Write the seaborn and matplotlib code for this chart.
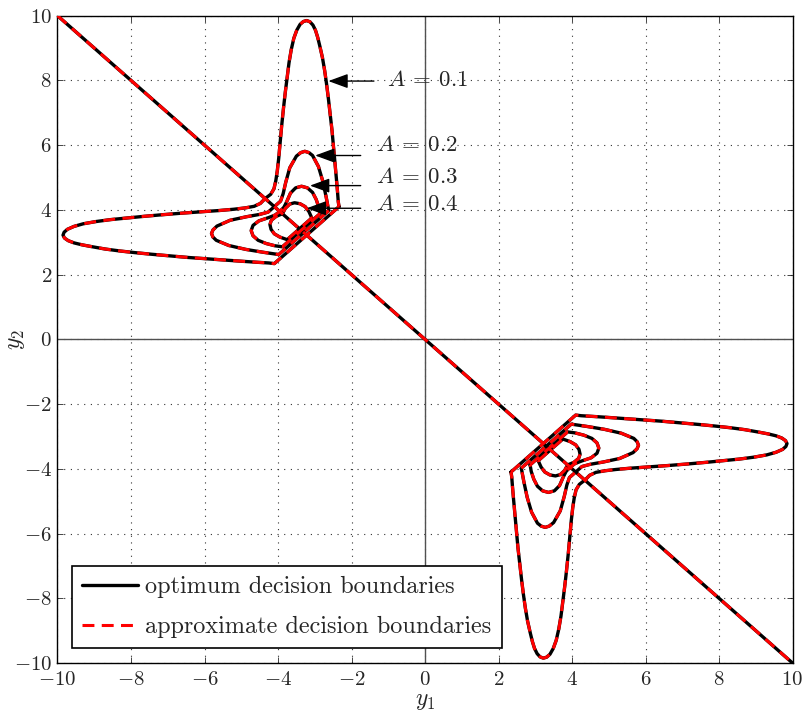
import matplotlib
matplotlib.use("Agg")
import matplotlib.pyplot as plt
import seaborn as sns

# ---------------------------------------------------------------------------
# Decision-boundary data (y1, y2 coordinates)
# ---------------------------------------------------------------------------
diag_y1 = [-10.0, 10.0]
diag_y2 = [10.0, -10.0]

# upper-left closed boundaries
a01_ul_y1 = [-2.34, -4.10, -4.25, -4.55, -4.95, -5.45, -5.95, -6.45, -6.95, -7.45,
             -7.90, -8.30, -8.70, -9.05, -9.33, -9.55, -9.71, -9.81, -9.85, -9.82,
             -9.73, -9.55, -9.30, -8.95, -8.55, -8.10, -7.65, -7.15, -6.60, -6.10,
             -5.60, -5.20, -4.90, -4.65, -4.48, -4.35, -4.20, -4.11, -4.06, -4.02,
             -3.98, -3.94, -3.90, -3.85, -3.80, -3.75, -3.70, -3.64, -3.57, -3.49,
             -3.40, -3.31, -3.22, -3.13, -3.05, -2.98, -2.92, -2.86, -2.79, -2.73,
             -2.68, -2.63, -2.58, -2.53, -2.49, -2.45, -2.41, -2.38, -2.36, -2.34]
a01_ul_y2 = [4.10, 2.34, 2.36, 2.38, 2.41, 2.45, 2.49, 2.53, 2.58, 2.63,
             2.68, 2.73, 2.79, 2.86, 2.92, 2.98, 3.05, 3.13, 3.22, 3.31,
             3.40, 3.49, 3.57, 3.64, 3.70, 3.75, 3.80, 3.85, 3.90, 3.94,
             3.98, 4.02, 4.06, 4.11, 4.20, 4.35, 4.48, 4.65, 4.90, 5.20,
             5.60, 6.10, 6.60, 7.15, 7.65, 8.10, 8.55, 8.95, 9.30, 9.55,
             9.73, 9.82, 9.85, 9.81, 9.71, 9.55, 9.33, 9.05, 8.70, 8.30,
             7.90, 7.45, 6.95, 6.45, 5.95, 5.45, 4.95, 4.55, 4.25, 4.10]

a02_ul_y1 = [-2.62, -3.98, -4.10, -4.40, -4.88, -5.34, -5.68, -5.77, -5.81, -5.77,
             -5.66, -5.30, -4.85, -4.50, -4.27, -4.10, -3.93, -3.86, -3.79, -3.68,
             -3.50, -3.38, -3.27, -3.16, -3.06, -2.90, -2.78, -2.69, -2.64, -2.62]
a02_ul_y2 = [3.98, 2.62, 2.64, 2.69, 2.78, 2.90, 3.06, 3.16, 3.27, 3.38,
             3.50, 3.68, 3.79, 3.86, 3.93, 4.10, 4.27, 4.50, 4.85, 5.30,
             5.66, 5.77, 5.81, 5.77, 5.68, 5.34, 4.88, 4.40, 4.10, 3.98]

a03_ul_y1 = [-2.86, -3.88, -4.08, -4.32, -4.54, -4.68, -4.73, -4.68, -4.52, -4.26,
             -4.08, -3.95, -3.84, -3.76, -3.66, -3.52, -3.36, -3.20, -3.06, -2.96,
             -2.89, -2.86]
a03_ul_y2 = [3.88, 2.86, 2.89, 2.96, 3.06, 3.20, 3.36, 3.52, 3.66, 3.76,
             3.84, 3.95, 4.08, 4.26, 4.52, 4.68, 4.73, 4.68, 4.54, 4.32,
             4.08, 3.88]

a04_ul_y1 = [-3.08, -3.75, -3.80, -3.95, -4.10, -4.19, -4.22, -4.18, -4.05, -3.88,
             -3.80, -3.68, -3.55, -3.40, -3.26, -3.16, -3.10, -3.08]
a04_ul_y2 = [3.75, 3.08, 3.10, 3.16, 3.26, 3.40, 3.55, 3.68, 3.80, 3.88,
             4.05, 4.18, 4.22, 4.19, 4.10, 3.95, 3.80, 3.75]

# lower-right closed boundaries
a01_lr_y1 = [2.34, 4.10, 4.25, 4.55, 4.95, 5.45, 5.95, 6.45, 6.95, 7.45,
             7.90, 8.30, 8.70, 9.05, 9.33, 9.55, 9.71, 9.81, 9.85, 9.82,
             9.73, 9.55, 9.30, 8.95, 8.55, 8.10, 7.65, 7.15, 6.60, 6.10,
             5.60, 5.20, 4.90, 4.65, 4.48, 4.35, 4.20, 4.11, 4.06, 4.02,
             3.98, 3.94, 3.90, 3.85, 3.80, 3.75, 3.70, 3.64, 3.57, 3.49,
             3.40, 3.31, 3.22, 3.13, 3.05, 2.98, 2.92, 2.86, 2.79, 2.73,
             2.68, 2.63, 2.58, 2.53, 2.49, 2.45, 2.41, 2.38, 2.36, 2.34]
a01_lr_y2 = [-4.10, -2.34, -2.36, -2.38, -2.41, -2.45, -2.49, -2.53, -2.58, -2.63,
             -2.68, -2.73, -2.79, -2.86, -2.92, -2.98, -3.05, -3.13, -3.22, -3.31,
             -3.40, -3.49, -3.57, -3.64, -3.70, -3.75, -3.80, -3.85, -3.90, -3.94,
             -3.98, -4.02, -4.06, -4.11, -4.20, -4.35, -4.48, -4.65, -4.90, -5.20,
             -5.60, -6.10, -6.60, -7.15, -7.65, -8.10, -8.55, -8.95, -9.30, -9.55,
             -9.73, -9.82, -9.85, -9.81, -9.71, -9.55, -9.33, -9.05, -8.70, -8.30,
             -7.90, -7.45, -6.95, -6.45, -5.95, -5.45, -4.95, -4.55, -4.25, -4.10]

a02_lr_y1 = [2.62, 3.98, 4.10, 4.40, 4.88, 5.34, 5.68, 5.77, 5.81, 5.77,
             5.66, 5.30, 4.85, 4.50, 4.27, 4.10, 3.93, 3.86, 3.79, 3.68,
             3.50, 3.38, 3.27, 3.16, 3.06, 2.90, 2.78, 2.69, 2.64, 2.62]
a02_lr_y2 = [-3.98, -2.62, -2.64, -2.69, -2.78, -2.90, -3.06, -3.16, -3.27, -3.38,
             -3.50, -3.68, -3.79, -3.86, -3.93, -4.10, -4.27, -4.50, -4.85, -5.30,
             -5.66, -5.77, -5.81, -5.77, -5.68, -5.34, -4.88, -4.40, -4.10, -3.98]

a03_lr_y1 = [2.86, 3.88, 4.08, 4.32, 4.54, 4.68, 4.73, 4.68, 4.52, 4.26,
             4.08, 3.95, 3.84, 3.76, 3.66, 3.52, 3.36, 3.20, 3.06, 2.96,
             2.89, 2.86]
a03_lr_y2 = [-3.88, -2.86, -2.89, -2.96, -3.06, -3.20, -3.36, -3.52, -3.66, -3.76,
             -3.84, -3.95, -4.08, -4.26, -4.52, -4.68, -4.73, -4.68, -4.54, -4.32,
             -4.08, -3.88]

a04_lr_y1 = [3.08, 3.75, 3.80, 3.95, 4.10, 4.19, 4.22, 4.18, 4.05, 3.88,
             3.80, 3.68, 3.55, 3.40, 3.26, 3.16, 3.10, 3.08]
a04_lr_y2 = [-3.75, -3.08, -3.10, -3.16, -3.26, -3.40, -3.55, -3.68, -3.80, -3.88,
             -4.05, -4.18, -4.22, -4.19, -4.10, -3.95, -3.80, -3.75]

# annotation labels: text, arrow tip (y1, y2), arrow tail y1, text anchor (y1, y2)
amp_labels = [r"$A\:=\:0.1$", r"$A\:=\:0.2$", r"$A\:=\:0.3$", r"$A\:=\:0.4$"]
arrow_tips = [(-2.63, 7.98), (-2.99, 5.68), (-3.13, 4.75), (-3.22, 4.05)]
arrow_tails = [-1.39, -1.75, -1.75, -1.75]
label_pos = [(-1.04, 8.0), (-1.33, 6.01), (-1.33, 5.02), (-1.33, 4.19)]

xticks = [-10, -8, -6, -4, -2, 0, 2, 4, 6, 8, 10]
yticks = [-10, -8, -6, -4, -2, 0, 2, 4, 6, 8, 10]

# ---------------------------------------------------------------------------
sns.set_style("ticks")
plt.rcParams["font.family"] = ["cmr10", "DejaVu Serif"]
plt.rcParams["mathtext.fontset"] = "cm"
plt.rcParams["axes.formatter.use_mathtext"] = True
plt.rcParams["axes.unicode_minus"] = True

fig = plt.figure(figsize=(8.07, 7.14), dpi=100)
ax = fig.add_axes([0.07125, 0.07143, 0.9108, 0.9066])

curves = [
    (diag_y1, diag_y2),
    (a01_ul_y1, a01_ul_y2), (a02_ul_y1, a02_ul_y2),
    (a03_ul_y1, a03_ul_y2), (a04_ul_y1, a04_ul_y2),
    (a01_lr_y1, a01_lr_y2), (a02_lr_y1, a02_lr_y2),
    (a03_lr_y1, a03_lr_y2), (a04_lr_y1, a04_lr_y2),
]

# optimum boundaries (solid black)
for i, (cx, cy) in enumerate(curves):
    sns.lineplot(x=cx, y=cy, sort=False, estimator=None, ax=ax,
                 color="black", linewidth=2.4, zorder=3,
                 label="optimum decision boundaries" if i == 0 else None)

# approximate boundaries (dashed red)
for i, (cx, cy) in enumerate(curves):
    sns.lineplot(x=cx, y=cy, sort=False, estimator=None, ax=ax,
                 color="#ff0000", linewidth=2.2, zorder=4,
                 dashes=(3.9, 2.4),
                 label="approximate decision boundaries" if i == 0 else None)

# coordinate axes through the origin
ax.axhline(0, color="#505050", linewidth=1.0, zorder=2)
ax.axvline(0, color="#505050", linewidth=1.0, zorder=2)

# amplitude annotations
for text, tip, tail, pos in zip(amp_labels, arrow_tips, arrow_tails, label_pos):
    ax.annotate("", xy=tip, xytext=(tail, tip[1]),
                arrowprops=dict(arrowstyle="-|>,head_length=0.6,head_width=0.22",
                                color="black", lw=1.0, shrinkA=0, shrinkB=0,
                                mutation_scale=20),
                zorder=5)
    ax.text(pos[0], pos[1], text, fontsize=16.5, ha="left", va="center", zorder=5)

ax.set_xlim(-10, 10)
ax.set_ylim(-10, 10)
ax.set_xticks(xticks)
ax.set_yticks(yticks)
ax.grid(True, linestyle=(0, (1, 5)), color="#333333", linewidth=0.8)
ax.set_axisbelow(True)
ax.tick_params(direction="in", length=4, width=0.6, top=True, right=True,
               labelsize=15)
ax.tick_params(axis="x", pad=6)
ax.tick_params(axis="y", pad=4)
for sp in ax.spines.values():
    sp.set_linewidth(1.0)
    sp.set_color("black")

ax.set_xlabel("$y_1$", fontsize=17)
ax.set_ylabel("$y_2$", fontsize=17)
ax.xaxis.set_label_coords(0.5, -0.041)
ax.yaxis.set_label_coords(-0.042, 0.5)

leg = ax.legend(loc="lower left", bbox_to_anchor=(0.0193, 0.0227),
                borderaxespad=0, fontsize=17.5, frameon=True, fancybox=False,
                framealpha=1, edgecolor="black", handlelength=2.3,
                handletextpad=0.3, labelspacing=0.72, borderpad=0.42)
leg.get_frame().set_linewidth(1.2)

fig.savefig("out.png", dpi=100)
